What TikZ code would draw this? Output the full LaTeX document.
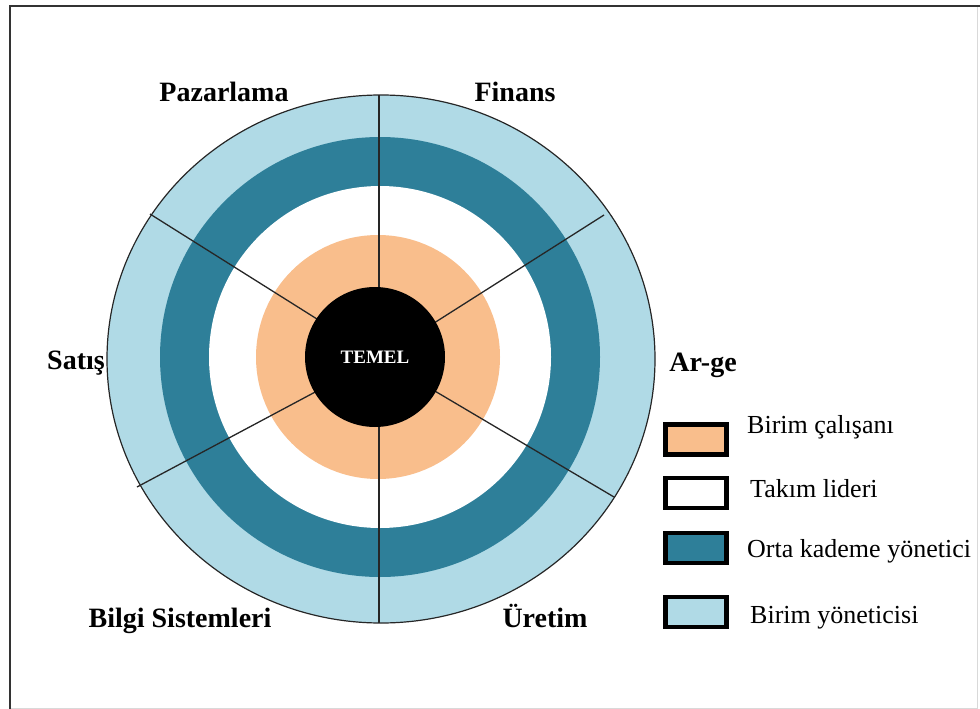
\documentclass[tikz,border=0pt]{standalone}
\usepackage{fontspec}
\setmainfont{Liberation Serif}
\definecolor{peach}{RGB}{249,190,140}
\definecolor{teal}{RGB}{46,127,153}
\definecolor{paleblue}{RGB}{176,218,230}
\begin{document}
\begin{tikzpicture}[x=1pt,y=-1pt,
  sector/.style={line width=1.3pt,draw=black!85},
  dept/.style={font=\fontsize{28}{30}\selectfont\bfseries,anchor=base,inner sep=0pt},
  keybox/.style={draw=black,line width=4.5pt,minimum width=61pt,minimum height=30pt,inner sep=0pt},
  keytext/.style={font=\fontsize{26}{28}\selectfont,anchor=base west,inner sep=0pt}]
\useasboundingbox (0,0) rectangle (980,709);
% frame
\draw[black!15,line width=1pt] (977,6) -- (977,708) -- (10,708);
\draw[black!80,line width=1.5pt] (10,709) -- (10,6) -- (980,6);

% concentric rings
\fill[paleblue] (381,359) ellipse [x radius=274,y radius=264];
\fill[teal] (380,357) circle [radius=220];
\fill[white] (380,357) circle [radius=171];
\fill[peach] (378,357) circle [radius=122];

% sector boundaries on the outer ellipse
\coordinate (c) at (379,358);
\coordinate (t) at (379,95);
\coordinate (b) at (379,623);
\coordinate (ur) at (604,215);
\coordinate (lr) at (614,497);
\coordinate (ul) at (150,214);
\coordinate (ll) at (137,487);
\draw[sector] (c) -- (t);
\draw[sector] (c) -- (b);
\draw[sector] (c) -- (ur);
\draw[sector] (c) -- (lr);
\draw[sector] (c) -- (ul);
\draw[sector] (c) -- (ll);
\draw[black!85,line width=1.2pt] (381,359) ellipse [x radius=274,y radius=264];

% core
\node[circle,fill=black,minimum size=140pt,inner sep=0pt,text=white,
      font=\fontsize{19}{20}\selectfont\bfseries] (core) at (375,357) {TEMEL};

% department labels
\node[dept] (paz) at (224,102) {Pazarlama};
\node[dept] (fin) at (515,102) {Finans};
\node[dept] (sat) at (76,369) {Satış};
\node[dept] (arg) at (703,371) {Ar-ge};
\node[dept] (bil) at (180,627) {Bilgi Sistemleri};
\node[dept] (ure) at (545,627) {Üretim};

% legend
\node[keybox,fill=peach] (k1) at (696,439.5) {};
\node[keybox,fill=white] (k2) at (696,493) {};
\node[keybox,fill=teal] (k3) at (696,548) {};
\node[keybox,fill=paleblue] (k4) at (696,612) {};
\node[keytext] (l1) at (747,433) {Birim çalışanı};
\node[keytext] (l2) at (750,497) {Takım lideri};
\node[keytext] (l3) at (747,557) {Orta kademe yönetici};
\node[keytext] (l4) at (750,623) {Birim yöneticisi};
\end{tikzpicture}
\end{document}
